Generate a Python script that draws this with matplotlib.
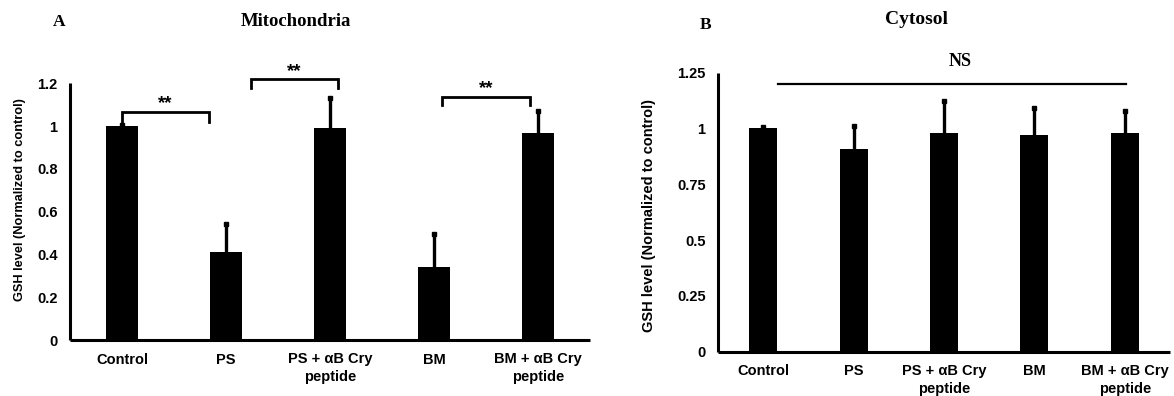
import matplotlib
matplotlib.use("Agg")
import matplotlib.pyplot as plt
import numpy as np

categories = ["Control", "PS", "PS + \u03b1B Cry\npeptide", "BM", "BM + \u03b1B Cry\npeptide"]

mito_values = [1.00, 0.41, 0.99, 0.34, 0.97]
mito_errors = [0.005, 0.13, 0.14, 0.155, 0.10]
mito_ticks = [0, 0.2, 0.4, 0.6, 0.8, 1.0, 1.2]
mito_ticklabels = ["0", "0.2", "0.4", "0.6", "0.8", "1", "1.2"]

cyto_values = [1.00, 0.91, 0.98, 0.97, 0.98]
cyto_errors = [0.005, 0.10, 0.145, 0.12, 0.10]
cyto_ticks = [0, 0.25, 0.5, 0.75, 1.0, 1.25]
cyto_ticklabels = ["0", "0.25", "0.5", "0.75", "1", "1.25"]

# significance brackets for panel A: (x_left, x_right, y_top, y_left_end, y_right_end, label_y)
mito_brackets = [
    (0.0, 0.84, 1.064, 1.015, 1.02, 1.105),
    (1.24, 2.08, 1.219, 1.177, 1.177, 1.255),
    (3.08, 3.92, 1.135, 1.10, 1.10, 1.175),
]
ns_line = (0.16, 4.01, 1.20)

SANS = "Liberation Sans"
SERIF = "Liberation Serif"

W, H = 1174, 396
fig = plt.figure(figsize=(W / 100, H / 100), dpi=100)


def px_axes(left, right, top, bottom):
    return fig.add_axes([left / W, 1 - bottom / H, (right - left) / W, (bottom - top) / H])


def style_axes(ax, ticks, ticklabels, ymax):
    x = np.arange(len(categories))
    ax.set_xlim(-0.5, len(categories) - 0.5)
    ax.set_ylim(0, ymax)
    for s in ["top", "right"]:
        ax.spines[s].set_visible(False)
    for s in ["left", "bottom"]:
        ax.spines[s].set_linewidth(2.2)
        ax.spines[s].set_capstyle("butt")
    ax.set_xticks(x)
    ax.set_xticklabels(categories, fontfamily=SANS, fontweight="bold", fontsize=10.5, linespacing=1.3)
    ax.set_yticks(ticks)
    ax.set_yticklabels(ticklabels, fontfamily=SANS, fontweight="bold", fontsize=10.5)
    ax.tick_params(axis="both", length=0)
    ax.tick_params(axis="y", pad=9)
    ax.tick_params(axis="x", pad=9)


def draw_bars(ax, values, errors):
    x = np.arange(len(categories))
    v = np.asarray(values)
    e = np.asarray(errors)
    ax.bar(x, v, width=0.31, color="black", zorder=2)
    ax.vlines(x, v, v + e, color="black", lw=2.4, zorder=3)
    ax.plot(x, v + e, ls="none", marker="s", ms=3.5, color="black", zorder=3)


# Panel A
axA = px_axes(70, 590, 83.3, 340)
draw_bars(axA, mito_values, mito_errors)
style_axes(axA, mito_ticks, mito_ticklabels, 1.2)
for (xl, xr, yt, yl, yr, ly) in mito_brackets:
    axA.plot([xl, xl, xr, xr], [yl, yt, yt, yr], color="black", lw=2.0, clip_on=False,
             solid_joinstyle="miter")
    axA.text((xl + xr) / 2, ly, "**", ha="center", va="center", fontfamily=SANS,
             fontweight="bold", fontsize=13.5, clip_on=False)

fig.text(20 / W, 1 - 200 / H, "GSH level (Normalized to control)", rotation=90,
         ha="center", va="center", fontfamily=SANS, fontweight="bold", fontsize=9.2)
fig.text(59 / W, 1 - 22 / H, "A", ha="center", va="center", fontfamily=SERIF,
         fontweight="bold", fontsize=12.5)
fig.text(296 / W, 1 - 22 / H, "Mitochondria", ha="center", va="center", fontfamily=SERIF,
         fontweight="bold", fontsize=13.5)

# Panel B
axB = px_axes(718, 1170, 72.7, 351.7)
draw_bars(axB, cyto_values, cyto_errors)
style_axes(axB, cyto_ticks, cyto_ticklabels, 1.25)
axB.plot([ns_line[0], ns_line[1]], [ns_line[2], ns_line[2]], color="black", lw=1.6, clip_on=False)
axB.text(2.18, 1.30, "NS", ha="center", va="center", fontfamily=SERIF, fontweight="bold",
         fontsize=13, clip_on=False)

fig.text(649 / W, 1 - 216 / H, "GSH level (Normalized to control)", rotation=90,
         ha="center", va="center", fontfamily=SANS, fontweight="bold", fontsize=10.5)
fig.text(706 / W, 1 - 25 / H, "B", ha="center", va="center", fontfamily=SERIF,
         fontweight="bold", fontsize=12.5)
fig.text(917 / W, 1 - 20 / H, "Cytosol", ha="center", va="center", fontfamily=SERIF,
         fontweight="bold", fontsize=14)

fig.savefig("out.png", dpi=100, facecolor="white")
